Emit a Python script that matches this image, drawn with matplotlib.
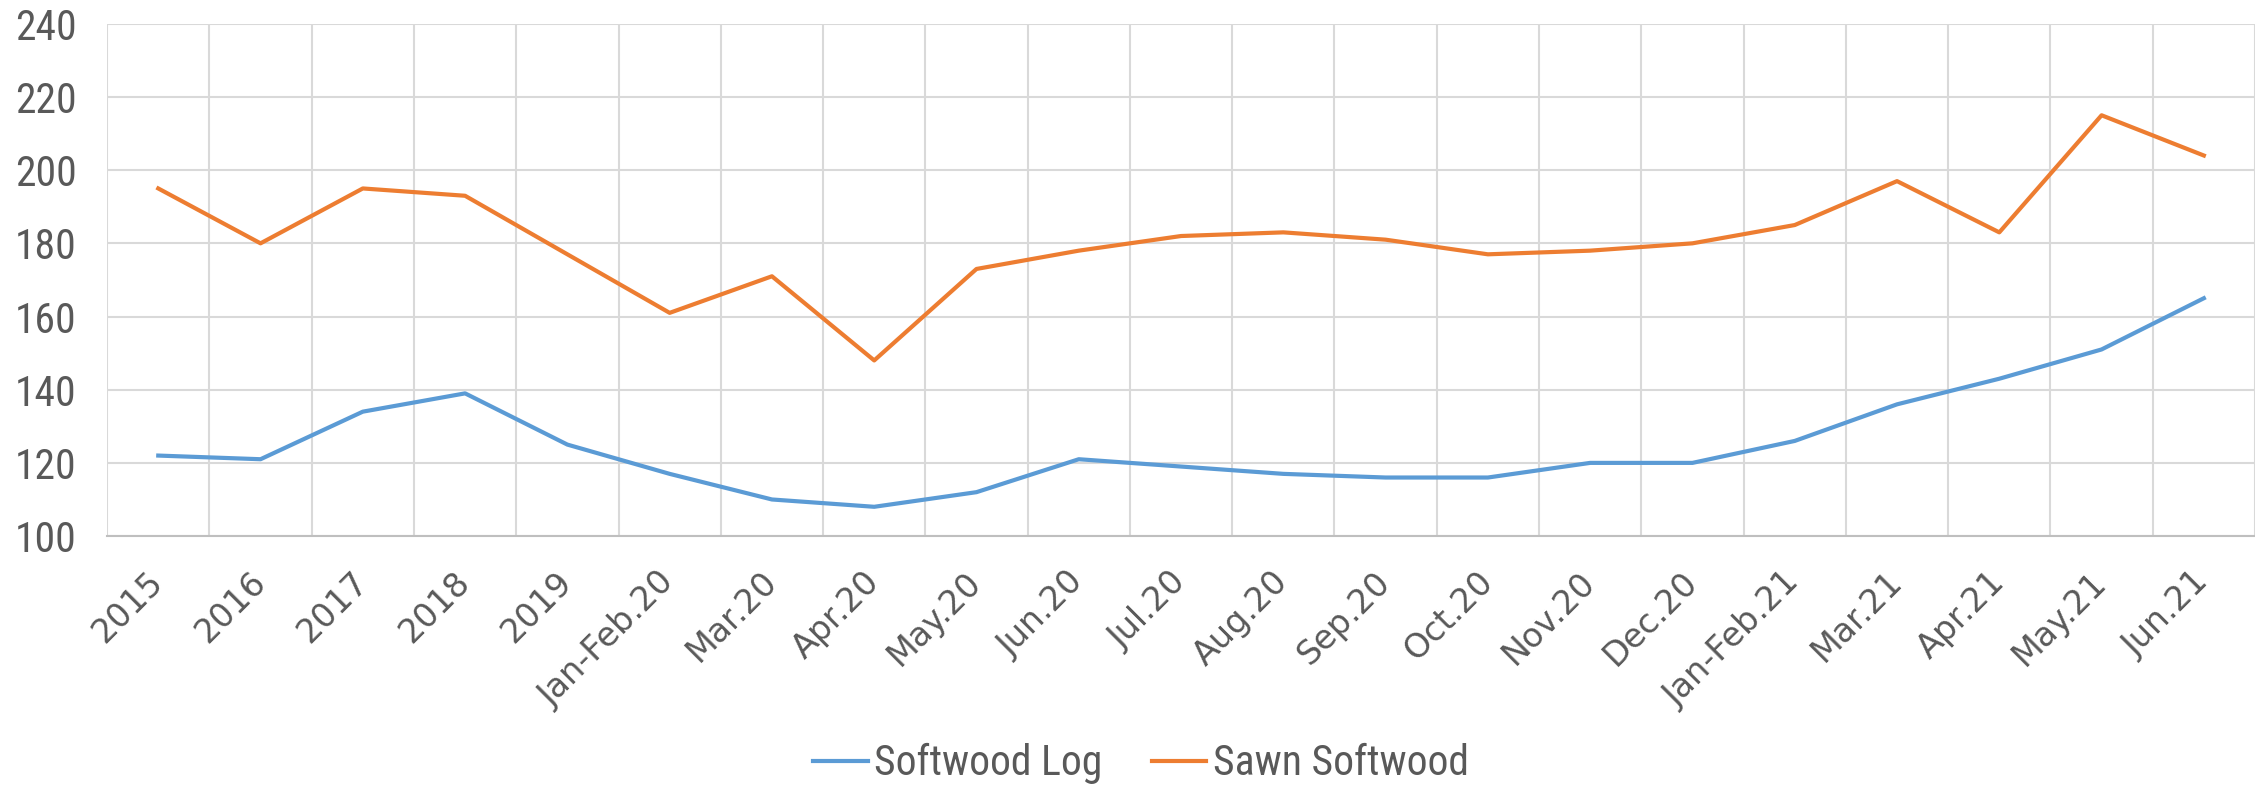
import numpy as np
import matplotlib
matplotlib.use("Agg")
import matplotlib.pyplot as plt
from matplotlib import font_manager

categories = ["2015", "2016", "2017", "2018", "2019", "Jan-Feb.20", "Mar.20",
              "Apr.20", "May.20", "Jun.20", "Jul.20", "Aug.20", "Sep.20",
              "Oct.20", "Nov.20", "Dec.20", "Jan-Feb.21", "Mar.21", "Apr.21",
              "May.21", "Jun.21"]
softwood_log = [122, 121, 134, 139, 125, 117, 110, 108, 112, 121, 119, 117,
                116, 116, 120, 120, 126, 136, 143, 151, 165]
sawn_softwood = [195, 180, 195, 193, 177, 161, 171, 148, 173, 178, 182, 183,
                 181, 177, 178, 180, 185, 197, 183, 215, 204]

blue = "#5B9BD5"
orange = "#ED7D31"
grey_txt = "#595959"

# pick a condensed face if one is installed
names = {f.name for f in font_manager.fontManager.ttflist}
narrow = [n for n in ["Roboto Condensed", "Liberation Sans Narrow",
                      "DejaVu Sans Condensed", "Open Sans Condensed"] if n in names]
narrow = narrow[:1] + ["Liberation Sans", "DejaVu Sans"]
print(narrow)

fig = plt.figure(figsize=(22.55, 7.93), dpi=100)
ax = fig.add_axes([0.0475, 0.324, 0.9525, 0.646])

x = np.arange(len(categories))
ax.plot(x, softwood_log, color=blue, lw=3.0, label="Softwood Log")
ax.plot(x, sawn_softwood, color=orange, lw=3.0, label="Sawn Softwood")

ax.set_xlim(-0.5, len(categories) - 0.5)
ax.set_ylim(100, 240)
ax.set_yticks(np.arange(100, 241, 20))

# category gridlines sit between the points
ax.set_xticks(np.arange(-0.5, len(categories), 1.0), minor=True)
ax.set_xticks(x)
ax.grid(True, which="minor", axis="x", color="#D9D9D9", lw=1.5)
ax.grid(True, which="major", axis="y", color="#D9D9D9", lw=1.5)
ax.set_axisbelow(True)
ax.tick_params(which="both", length=0)

ax.set_xticklabels(categories, rotation=45, ha="right", va="center",
                   rotation_mode="anchor", fontsize=24, color=grey_txt,
                   family="DejaVu Sans")
for lbl in ax.get_xticklabels():
    lbl.set_y(-0.07)
ax.tick_params(axis="y", pad=22)
for lbl in ax.get_yticklabels():
    lbl.set_fontsize(30)
    lbl.set_color(grey_txt)
    lbl.set_family(narrow)

for s in ["top", "right", "left"]:
    ax.spines[s].set_visible(False)
ax.spines["bottom"].set_color("#BFBFBF")
ax.spines["bottom"].set_linewidth(1.5)

leg = fig.legend(loc="center", bbox_to_anchor=(0.506, 0.037), ncol=2,
                 frameon=False, handlelength=1.3, handletextpad=0.15,
                 columnspacing=1.2, prop={"family": narrow, "size": 30})
for t in leg.get_texts():
    t.set_color(grey_txt)

fig.savefig("out.png", dpi=100, facecolor="white")
